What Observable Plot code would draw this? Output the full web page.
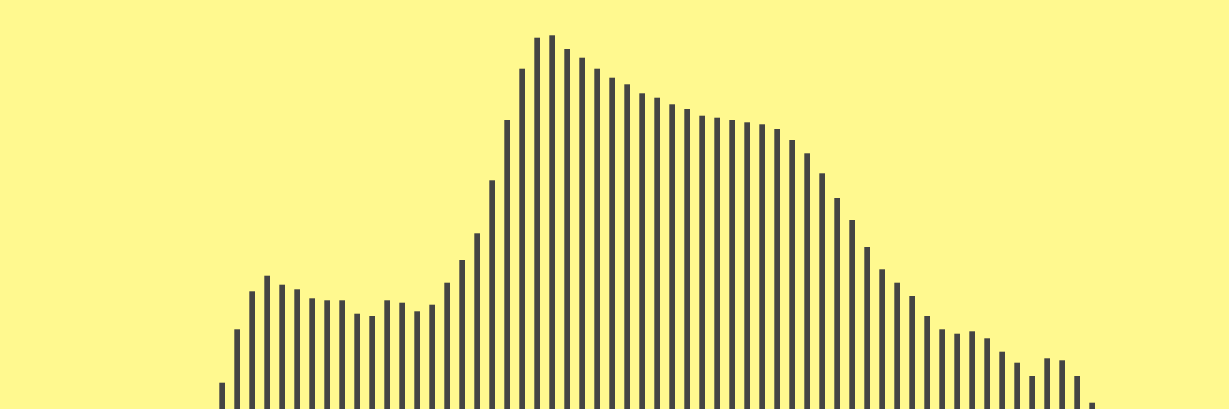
<!DOCTYPE html>
<html>
<head>
<meta charset="utf-8">
<script src="https://cdn.jsdelivr.net/npm/d3@7"></script>
<script src="https://cdn.jsdelivr.net/npm/@observablehq/plot@0.6"></script>
<style>
  html, body { margin: 0; padding: 0; background: #fff98f; overflow: hidden; }
  #chart svg { display: block; }
</style>
</head>
<body>
<div id="chart"></div>
<script>
const categories = d3.range(1, 60);
const values = [
  26.3, 79.7, 117.7, 133.3, 124.3, 119.7, 110.7, 108.7, 108.7, 95.3,
  93.0, 108.7, 106.3, 97.7, 104.3, 126.3, 149.0, 175.7, 228.7, 289.0,
  340.3, 371.3, 373.7, 360.0, 351.3, 340.3, 331.3, 324.7, 315.7, 311.3,
  304.7, 300.0, 293.3, 291.3, 289.0, 286.7, 284.7, 280.0, 269.0, 255.7,
  235.7, 211.0, 189.0, 162.0, 139.7, 126.3, 113.0, 93.0, 79.7, 75.3,
  77.7, 70.7, 57.3, 46.3, 33.0, 50.7, 48.7, 33.0, 6.3
];
const data = categories.map((c, i) => ({cat: c, value: values[i]}));

const chart = Plot.plot({
  width: 1229,
  height: 409,
  marginLeft: 210,
  marginRight: 124.7,
  marginTop: 9,
  marginBottom: 0,
  style: {background: "#fff98f"},
  x: {type: "band", domain: categories, padding: 0.62, axis: null},
  y: {domain: [0, 400], axis: null},
  marks: [
    Plot.barY(data, {x: "cat", y: "value", fill: "#444444"})
  ]
});
document.getElementById("chart").appendChild(chart);
</script>
</body>
</html>
